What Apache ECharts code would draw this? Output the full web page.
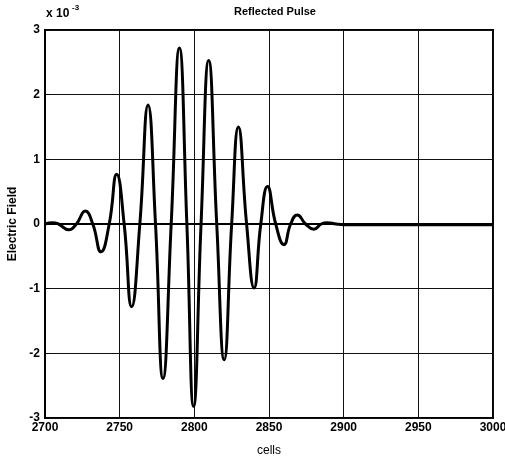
<!DOCTYPE html>
<html>
<head>
<meta charset="utf-8">
<title>Reflected Pulse</title>
<script src="https://cdn.jsdelivr.net/npm/echarts@6/dist/echarts.min.js"></script>
<style>
  html, body { margin: 0; padding: 0; background: #fff; }
  #chart { width: 505px; height: 458px; }
</style>
</head>
<body>
<div id="chart"></div>
<script>
// valores (campo em unidades de 1e-3)
const cells = [2700, 2705, 2709, 2716, 2721, 2727, 2732, 2737.5, 2743, 2748,
  2753, 2758, 2763.5, 2769, 2774, 2779, 2784.5, 2790, 2795, 2799.5,
  2804.5, 2809.6, 2815, 2820, 2825, 2829.5, 2835, 2840, 2844.5, 2849,
  2854.5, 2860, 2864.5, 2869, 2874.5, 2880, 2885, 2889, 2895, 2900,
  2950, 3000];
const field = [0, 0.02, 0, -0.09, 0, 0.2, 0, -0.43, 0, 0.77,
  0, -1.28, 0, 1.84, 0, -2.39, 0, 2.72, 0, -2.82,
  0, 2.53, 0, -2.1, 0, 1.5, 0, -0.99, 0, 0.58,
  0, -0.32, 0, 0.14, 0, -0.08, 0, 0.02, 0, -0.01,
  -0.01, -0.01];

const xTicks = [2700, 2750, 2800, 2850, 2900, 2950, 3000];
const yTicks = [-3, -2, -1, 0, 1, 2, 3];

const chart = echarts.init(document.getElementById('chart'));

const fonte = 'Liberation Sans, Arial, sans-serif';

const option = {
  animation: false,
  backgroundColor: '#fff',
  title: {
    text: 'Reflected Pulse',
    left: 270,
    top: 1,
    textAlign: 'center',
    textStyle: { fontFamily: fonte, fontSize: 11, fontWeight: 'bold', color: '#000' }
  },
  grid: {
    left: 45, right: 12, top: 30, bottom: 40,
    outerBoundsMode: 'none',
    show: true, borderColor: '#000', borderWidth: 2
  },
  xAxis: {
    type: 'value',
    min: xTicks[0],
    max: xTicks[xTicks.length - 1],
    interval: 50,
    name: 'cells',
    nameLocation: 'middle',
    nameGap: 27,
    nameTextStyle: { fontFamily: fonte, fontSize: 12, color: '#000' },
    axisLine: { lineStyle: { color: '#000', width: 2 } },
    axisTick: { inside: true, length: 4, lineStyle: { color: '#000' } },
    axisLabel: {
      fontFamily: fonte, fontSize: 12, fontWeight: 'bold', color: '#000', margin: 4,
      formatter: v => String(v)
    },
    splitLine: { show: true, lineStyle: { color: '#111', width: 1 } }
  },
  yAxis: {
    type: 'value',
    min: yTicks[0],
    max: yTicks[yTicks.length - 1],
    interval: 1,
    name: 'Electric Field',
    nameLocation: 'middle',
    nameGap: 25,
    nameTextStyle: { fontFamily: fonte, fontSize: 12, fontWeight: 'bold', color: '#000' },
    axisLine: { lineStyle: { color: '#000', width: 2 } },
    axisTick: { inside: true, length: 4, lineStyle: { color: '#000' } },
    axisLabel: {
      fontFamily: fonte, fontSize: 12, fontWeight: 'bold', color: '#000', margin: 5,
      formatter: v => String(v)
    },
    splitLine: { show: true, lineStyle: { color: '#111', width: 1 } }
  },
  graphic: [
    {
      type: 'text', left: 46, top: 8,
      style: { text: 'x 10', font: 'bold 12px ' + fonte, fill: '#000' }
    },
    {
      type: 'text', left: 72, top: 4,
      style: { text: '-3', font: 'bold 8px ' + fonte, fill: '#000' }
    }
  ],
  series: [
    {
      type: 'line',
      data: cells.map((c, i) => [c, field[i]]),
      smooth: 0.5,
      showSymbol: false,
      lineStyle: { color: '#000', width: 3 }
    }
  ]
};

chart.setOption(option);
</script>
</body>
</html>
